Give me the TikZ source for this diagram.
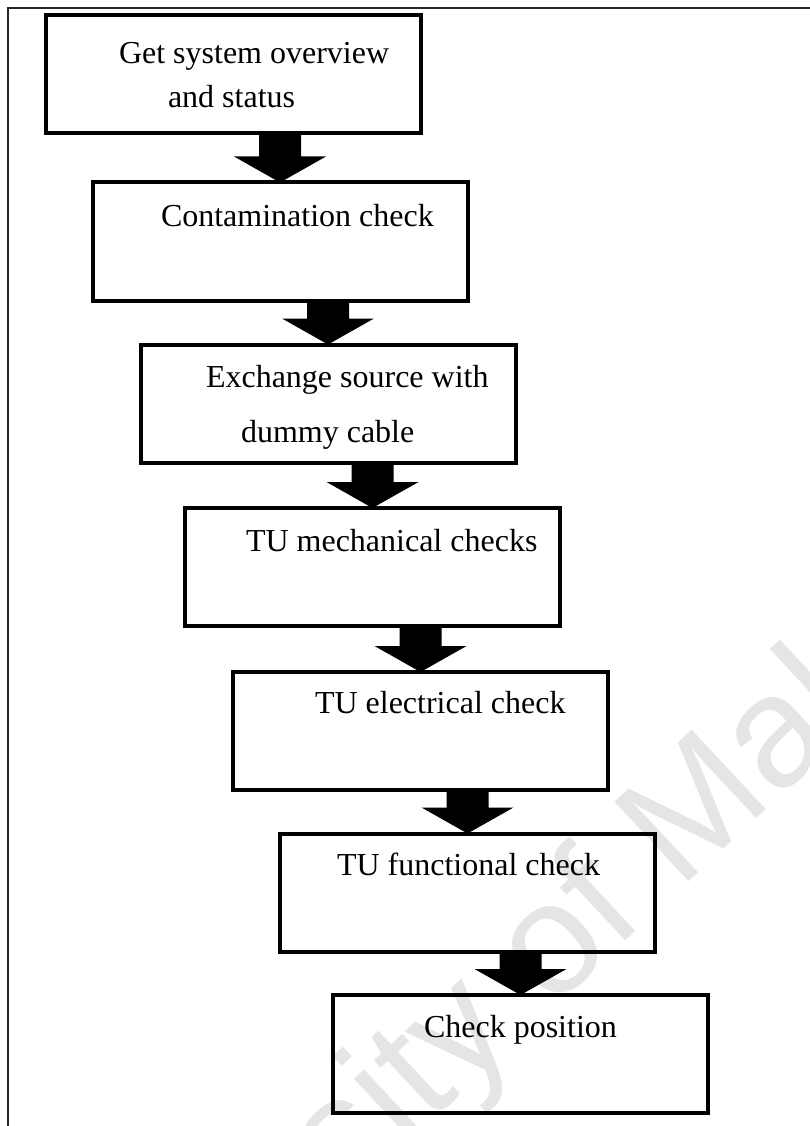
\documentclass[tikz,border=0pt]{standalone}
\usepackage{fontspec}
\setmainfont{Liberation Serif}
\newfontfamily\wmfont{Liberation Sans}
\usetikzlibrary{calc}
\begin{document}
\begin{tikzpicture}[x=1pt,y=-1pt,
  stepbox/.style={draw=black,line width=4pt,rectangle,outer sep=0pt,inner sep=0pt,
    minimum width=375pt,minimum height=118pt},
  txt/.style={anchor=base west,inner sep=0pt,outer sep=0pt,font=\fontsize{32}{38}\selectfont},
  frameline/.style={draw=black!85,line width=1.6pt},
  blockarrow/.style={fill=black,draw=none}]
\useasboundingbox (0,0) rectangle (810,1126);
\begin{scope}
\clip (0,0) rectangle (810,1126);
\node[rotate=43,anchor=base west,inner sep=0pt,text=black!10,font=\wmfont\fontsize{158}{160}\selectfont] (wm) at (12,1513) {University of Malaya};
\end{scope}
% frame
\coordinate (fr0) at (8,1126);
\coordinate (fr1) at (8,8);
\coordinate (fr2) at (810,8);
\draw[frameline] (fr0) -- (fr1) -- (fr2);
% boxes
\node[stepbox] (b1) at (233,74.5) {};
\node[stepbox] (b2) at (280,241.5) {};
\node[stepbox] (b3) at (328,403.5) {};
\node[stepbox] (b4) at (372.5,567) {};
\node[stepbox] (b5) at (420.5,731) {};
\node[stepbox] (b6) at (467.5,892.5) {};
\node[stepbox] (b7) at (520.5,1054) {};
% texts
\node[txt] (t1a) at (119,64) {Get system overview};
\node[txt] (t1b) at (168,108) {and status};
\node[txt] (t2) at (161,226) {Contamination check};
\node[txt] (t3a) at (206,387) {Exchange source with};
\node[txt] (t3b) at (241,442) {dummy cable};
\node[txt] (t4) at (246,551) {TU mechanical checks};
\node[txt] (t5) at (315,713) {TU electrical check};
\node[txt] (t6) at (337,875) {TU functional check};
\node[txt] (t7) at (424,1037) {Check position};
% block arrows
\foreach \s/\d in {b1/b2,b2/b3,b3/b4,b4/b5,b5/b6,b6/b7}{
  \coordinate (S) at (\d.north |- \s.south);
  \fill[blockarrow] ($(S)+(-21,0)$) -- ($(\d.north)+(-21,-26)$) -- ($(\d.north)+(-46,-26)$)
    -- (\d.north) -- ($(\d.north)+(46,-26)$) -- ($(\d.north)+(21,-26)$) -- ($(S)+(21,0)$) -- cycle;
}
\end{tikzpicture}
\end{document}
